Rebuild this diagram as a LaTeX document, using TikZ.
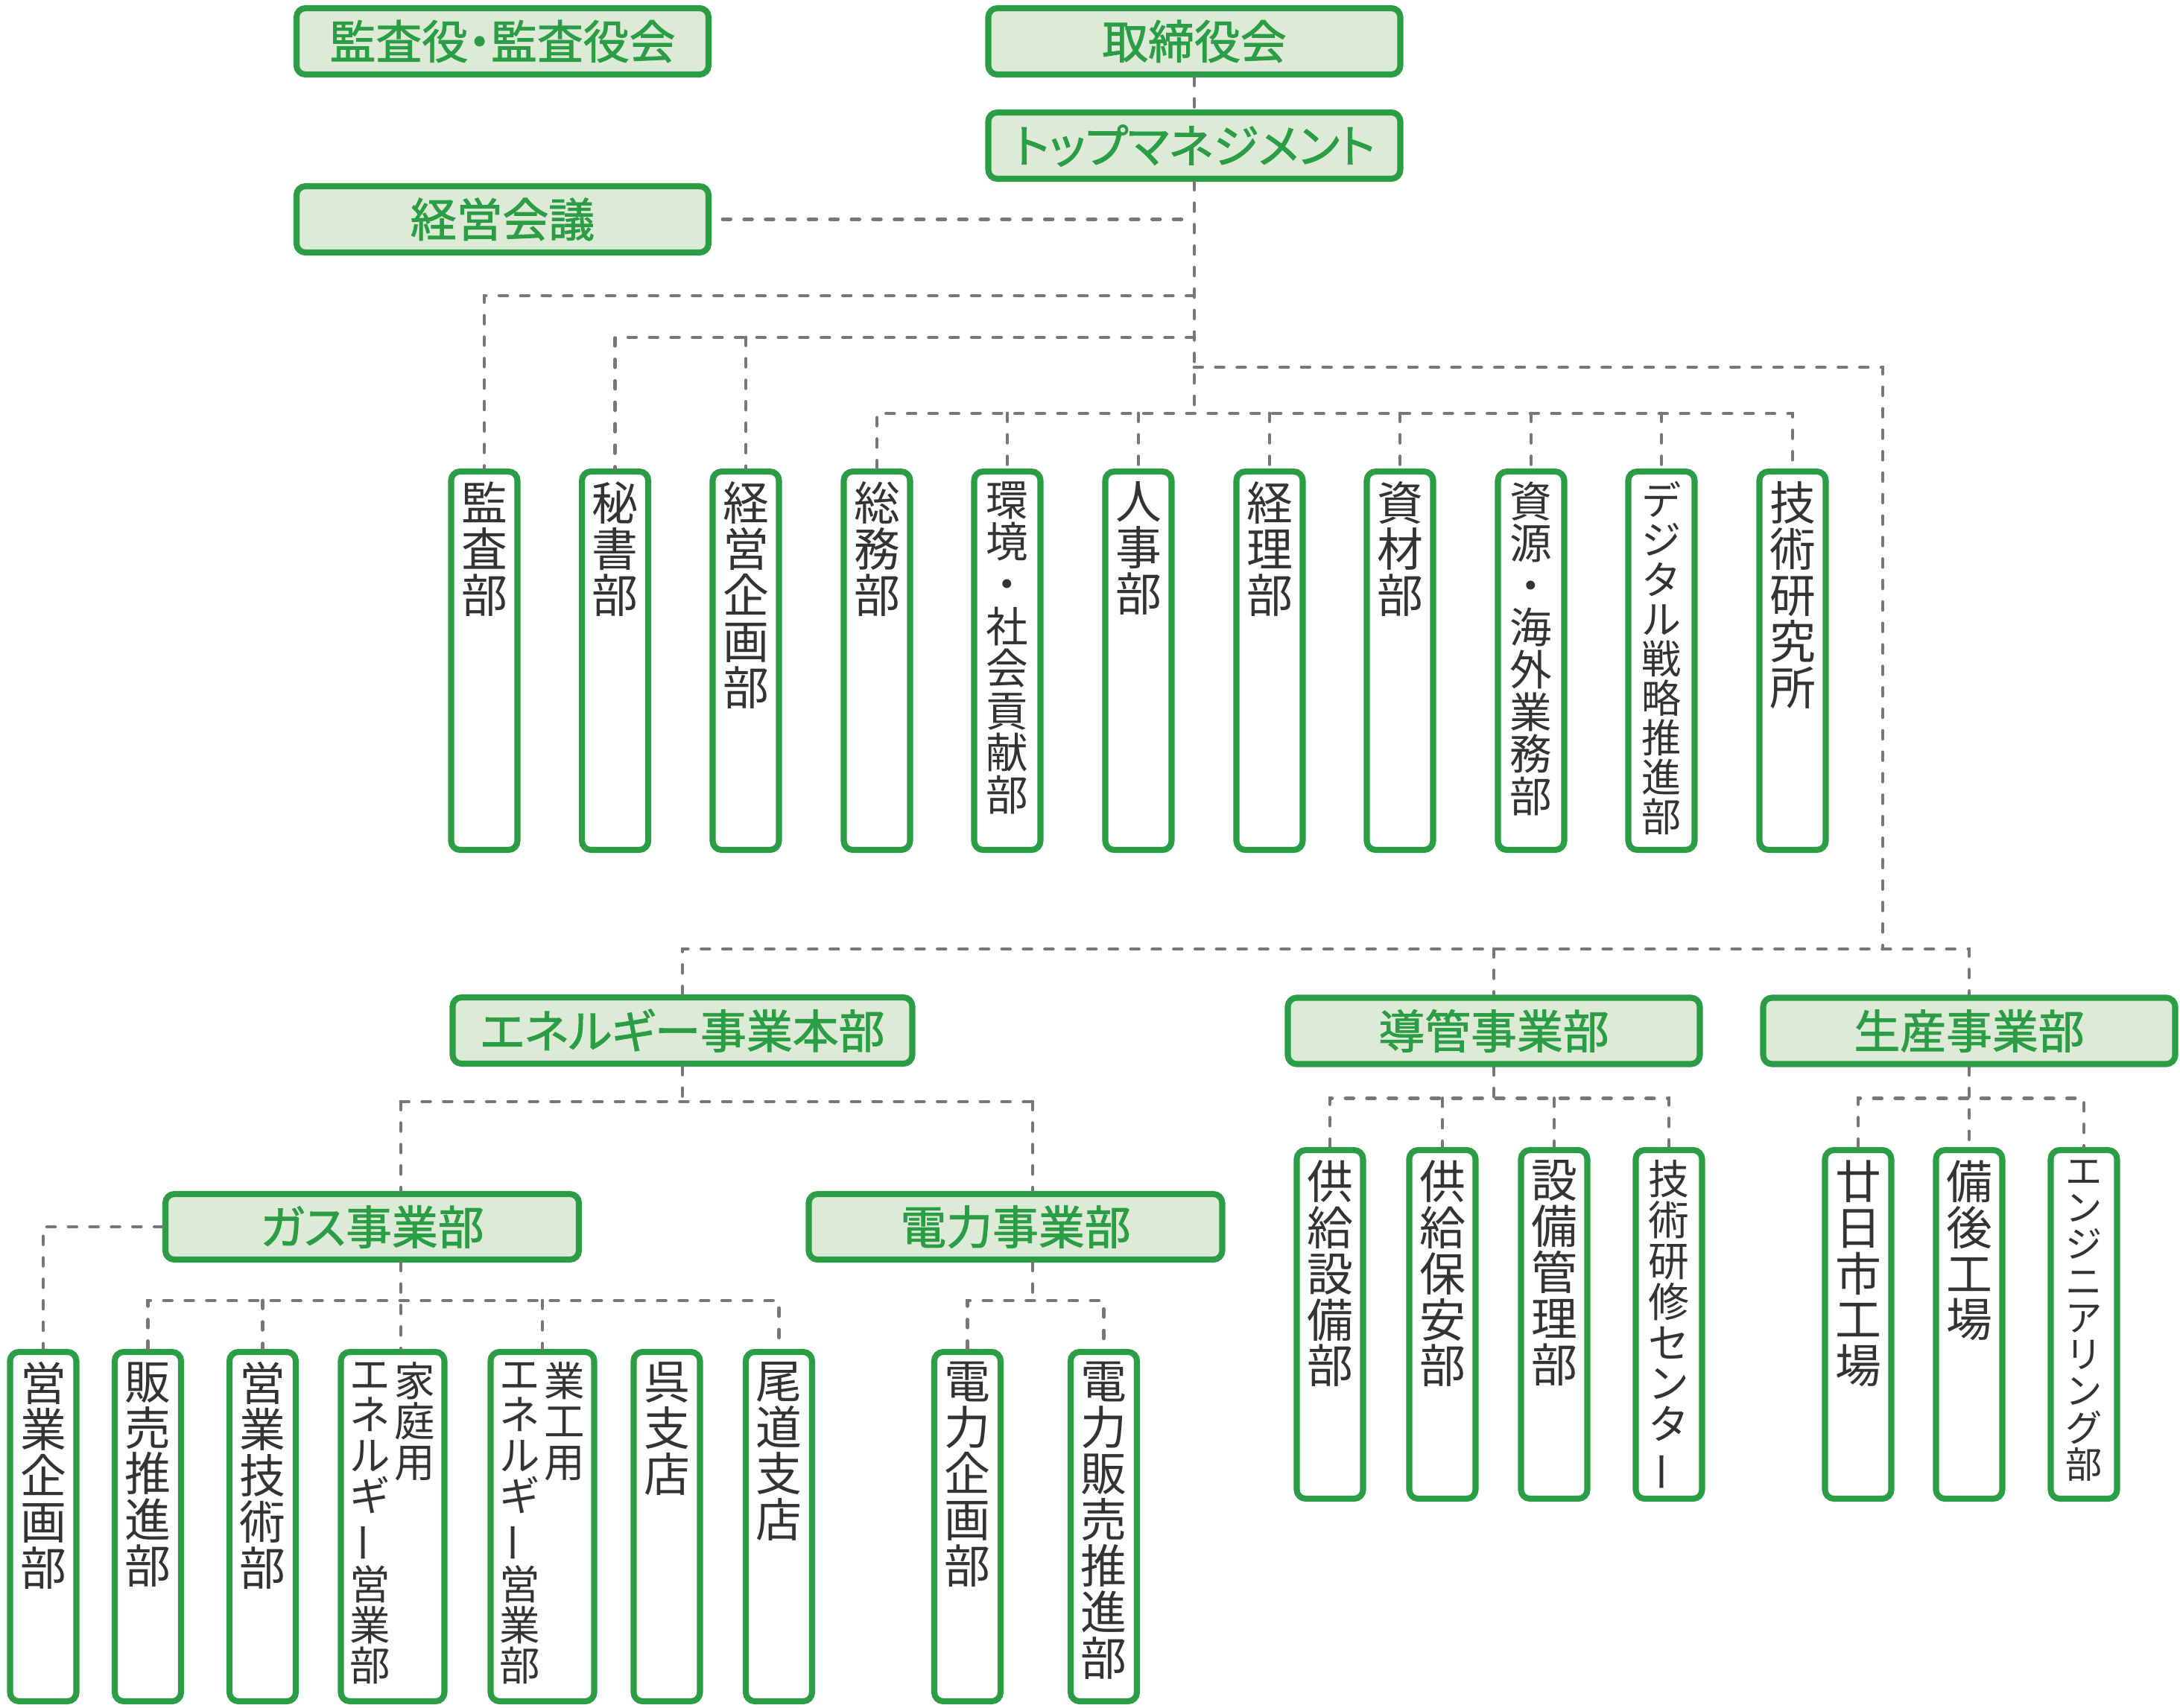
\documentclass[tikz,border=0pt]{standalone}
\usepackage{fontspec}
\usepackage{tikz}
\usetikzlibrary{positioning}

\newfontfamily\jpfont{Noto Sans CJK JP}
\newfontfamily\hdfont[RawFeature=+palt, FakeBold=1.5]{Noto Sans CJK JP}

\definecolor{gborder}{HTML}{2A9D45}
\definecolor{gfill}{HTML}{DCEAD6}
\definecolor{linkgray}{HTML}{777777}
\definecolor{darktext}{HTML}{333333}

% vertical long vowel mark
\newcommand{\vbar}{\rotatebox[origin=c]{90}{ー}}

\begin{document}
\begin{tikzpicture}[
    head/.style={rectangle, rounded corners=0.12cm, draw=gborder, line width=2.3pt, fill=gfill, minimum width=5.53cm, minimum height=0.89cm, inner sep=0, text=gborder, font=\hdfont\fontsize{17.6}{17.6}\selectfont},
    dept/.style={rectangle, rounded corners=0.12cm, draw=gborder, line width=2.3pt, fill=white, minimum width=0.89cm, inner sep=0},
    toprow/.style={dept, minimum height=5.08cm},
    midrow/.style={dept, minimum height=4.68cm},
    botrow/.style={dept, minimum height=4.69cm},
    vtext/.style={anchor=north, inner sep=0, align=center, text=darktext, font=\jpfont\fontsize{17.6}{17.6}\selectfont},
    link/.style={draw=linkgray, line width=1.4pt, line cap=round, dash pattern=on 3pt off 5.2pt}
]
\useasboundingbox (0,0) rectangle (29.26,-22.93);

% top
\node[head] (kansayaku) at (6.745,-0.555) {監査役・監査役会};
\node[head] (torishimari) at (16.03,-0.555) {取締役会};
\node[head] (topmgmt) at (16.03,-1.955) {トップマネジメント};
\node[head] (keieikaigi) at (6.745,-2.945) {経営会議};

% staff departments
\node[toprow] (kansabu) at (6.50,-8.87) {};
\node[toprow] (hisho) at (8.256,-8.87) {};
\node[toprow] (keieikikaku) at (10.01,-8.87) {};
\node[toprow] (somu) at (11.77,-8.87) {};
\node[toprow] (kankyo) at (13.52,-8.87) {};
\node[toprow] (jinji) at (15.28,-8.87) {};
\node[toprow] (keiri) at (17.04,-8.87) {};
\node[toprow] (shizai) at (18.79,-8.87) {};
\node[toprow] (shigen) at (20.55,-8.87) {};
\node[toprow] (digital) at (22.30,-8.87) {};
\node[toprow] (giken) at (24.06,-8.87) {};

\node[vtext] (kansabu-t) at ([yshift=-0.17cm]kansabu.north) {監\\査\\部};
\node[vtext] (hisho-t) at ([yshift=-0.17cm]hisho.north) {秘\\書\\部};
\node[vtext] (keieikikaku-t) at ([yshift=-0.17cm]keieikikaku.north) {経\\営\\企\\画\\部};
\node[vtext] (somu-t) at ([yshift=-0.17cm]somu.north) {総\\務\\部};
\node[vtext, font=\jpfont\fontsize{16.1}{16.1}\selectfont] (kankyo-t) at ([yshift=-0.17cm]kankyo.north) {環\\境\\・\\社\\会\\貢\\献\\部};
\node[vtext] (jinji-t) at ([yshift=-0.17cm]jinji.north) {人\\事\\部};
\node[vtext] (keiri-t) at ([yshift=-0.17cm]keiri.north) {経\\理\\部};
\node[vtext] (shizai-t) at ([yshift=-0.17cm]shizai.north) {資\\材\\部};
\node[vtext, font=\jpfont\fontsize{16.1}{16.1}\selectfont] (shigen-t) at ([yshift=-0.17cm]shigen.north) {資\\源\\・\\海\\外\\業\\務\\部};
\node[vtext, font=\jpfont\fontsize{15.1}{15.1}\selectfont] (digital-t) at ([yshift=-0.17cm]digital.north) {デ\\ジ\\タ\\ル\\戦\\略\\推\\進\\部};
\node[vtext] (giken-t) at ([yshift=-0.17cm]giken.north) {技\\術\\研\\究\\所};

% business divisions
\node[head, minimum width=6.17cm] (energyhq) at (9.16,-13.835) {エネルギー事業本部};
\node[head] (dokan) at (20.05,-13.84) {導管事業部};
\node[head] (seisan) at (26.43,-13.84) {生産事業部};
\node[head, minimum width=5.55cm, minimum height=0.88cm] (gas) at (4.995,-16.47) {ガス事業部};
\node[head, minimum width=5.55cm, minimum height=0.88cm] (denryoku) at (13.63,-16.47) {電力事業部};

% under dokan / seisan
\node[midrow] (kyokyusetsubi) at (17.85,-17.78) {};
\node[midrow] (kyokyuhoan) at (19.36,-17.78) {};
\node[midrow] (setsubikanri) at (20.86,-17.78) {};
\node[midrow] (kenshu) at (22.40,-17.78) {};
\node[midrow] (hatsukaichi) at (24.94,-17.78) {};
\node[midrow] (bingo) at (26.43,-17.78) {};
\node[midrow] (engineering) at (27.97,-17.78) {};

\node[vtext] (kyokyusetsubi-t) at ([yshift=-0.17cm]kyokyusetsubi.north) {供\\給\\設\\備\\部};
\node[vtext] (kyokyuhoan-t) at ([yshift=-0.17cm]kyokyuhoan.north) {供\\給\\保\\安\\部};
\node[vtext] (setsubikanri-t) at ([yshift=-0.17cm]setsubikanri.north) {設\\備\\管\\理\\部};
\node[vtext, font=\jpfont\fontsize{15.6}{15.6}\selectfont] (kenshu-t) at ([yshift=-0.17cm]kenshu.north) {技\\術\\研\\修\\セ\\ン\\タ\\\vbar};
\node[vtext] (hatsukaichi-t) at ([yshift=-0.17cm]hatsukaichi.north) {廿\\日\\市\\工\\場};
\node[vtext] (bingo-t) at ([yshift=-0.17cm]bingo.north) {備\\後\\工\\場};
\node[vtext, font=\jpfont\fontsize{14}{14}\selectfont] (engineering-t) at ([yshift=-0.17cm]engineering.north) {エ\\ン\\ジ\\ニ\\ア\\リ\\ン\\グ\\部};

% under gas / denryoku
\node[botrow] (eigyokikaku) at (0.58,-20.495) {};
\node[botrow] (hanbai) at (1.985,-20.495) {};
\node[botrow] (eigyogijutsu) at (3.525,-20.495) {};
\node[botrow, minimum width=1.39cm] (kateiyo) at (5.27,-20.495) {};
\node[botrow, minimum width=1.39cm] (gyokoyo) at (7.28,-20.495) {};
\node[botrow] (kure) at (8.95,-20.495) {};
\node[botrow] (onomichi) at (10.455,-20.495) {};
\node[botrow] (dkikaku) at (12.985,-20.495) {};
\node[botrow] (dhanbai) at (14.815,-20.495) {};

\node[vtext] (eigyokikaku-t) at ([yshift=-0.17cm]eigyokikaku.north) {営\\業\\企\\画\\部};
\node[vtext] (hanbai-t) at ([yshift=-0.17cm]hanbai.north) {販\\売\\推\\進\\部};
\node[vtext] (eigyogijutsu-t) at ([yshift=-0.17cm]eigyogijutsu.north) {営\\業\\技\\術\\部};
\node[vtext, font=\jpfont\fontsize{15.5}{15.5}\selectfont] (kateiyo-t1) at ([xshift=0.30cm,yshift=-0.17cm]kateiyo.north) {家\\庭\\用};
\node[vtext, font=\jpfont\fontsize{15.5}{15.5}\selectfont] (kateiyo-t2) at ([xshift=-0.30cm,yshift=-0.17cm]kateiyo.north) {エ\\ネ\\ル\\ギ\\\vbar\\営\\業\\部};
\node[vtext, font=\jpfont\fontsize{15.5}{15.5}\selectfont] (gyokoyo-t1) at ([xshift=0.30cm,yshift=-0.17cm]gyokoyo.north) {業\\工\\用};
\node[vtext, font=\jpfont\fontsize{15.5}{15.5}\selectfont] (gyokoyo-t2) at ([xshift=-0.30cm,yshift=-0.17cm]gyokoyo.north) {エ\\ネ\\ル\\ギ\\\vbar\\営\\業\\部};
\node[vtext] (kure-t) at ([yshift=-0.17cm]kure.north) {呉\\支\\店};
\node[vtext] (onomichi-t) at ([yshift=-0.17cm]onomichi.north) {尾\\道\\支\\店};
\node[vtext] (dkikaku-t) at ([yshift=-0.17cm]dkikaku.north) {電\\力\\企\\画\\部};
\node[vtext] (dhanbai-t) at ([yshift=-0.17cm]dhanbai.north) {電\\力\\販\\売\\推\\進\\部};

% junctions
\coordinate (j1) at (16.03,-3.97);
\coordinate (j2) at (16.03,-4.53);
\coordinate (j3) at (16.03,-4.93);
\coordinate (j4) at (16.03,-5.55);
\coordinate (j5) at (25.27,-12.74);
\coordinate (gasjoin) at (5.38,-14.79);
\coordinate (powjoin) at (13.86,-14.79);
\coordinate (gasbar) at (5.38,-17.46);
\coordinate (powbar) at (13.86,-17.46);
\coordinate (dbar) at (20.05,-14.745);

% connectors
\draw[link] (torishimari.south) -- (topmgmt.north);
\draw[link] (topmgmt.south) -- (j4);
\draw[link, shorten <=0.15cm] (keieikaigi.east) -- (keieikaigi.east -| topmgmt.south);
\draw[link] (j1) -| (kansabu.north);
\draw[link] (j2) -| (hisho.north);
\draw[link] (j2 -| keieikikaku) -- (keieikikaku.north);
\draw[link] (j3) -| (j5);
\draw[link] (somu.north) |- (j4) -| (giken.north);
\draw[link] (j4 -| kankyo) -- (kankyo.north);
\draw[link] (j4 -| jinji) -- (jinji.north);
\draw[link] (j4 -| keiri) -- (keiri.north);
\draw[link] (j4 -| shizai) -- (shizai.north);
\draw[link] (j4 -| shigen) -- (shigen.north);
\draw[link] (j4 -| digital) -- (digital.north);

\draw[link] (energyhq.north) |- (j5) -| (seisan.north);
\draw[link] (j5 -| dokan) -- (dokan.north);

\draw[link] (energyhq.south) -- (energyhq.south |- gasjoin);
\draw[link] (gasjoin) -- (powjoin);
\draw[link] (gasjoin) -- (gasjoin |- gas.north);
\draw[link] (powjoin) -- (powjoin |- denryoku.north);

\draw[link] (gas.south -| gasjoin) -- (gasjoin |- kateiyo.north);
\draw[link] (hanbai.north) |- (gasbar) -| (onomichi.north);
\draw[link] (gasbar -| eigyogijutsu) -- (eigyogijutsu.north);
\draw[link] (gasbar -| gyokoyo) -- (gyokoyo.north);
\draw[link] (gas.west) -| (eigyokikaku.north);

\draw[link] (denryoku.south -| powjoin) -- (powbar);
\draw[link] (dkikaku.north) |- (powbar) -| (dhanbai.north);

\draw[link] (dokan.south) -- (dbar);
\draw[link] (kyokyusetsubi.north) |- (dbar) -| (kenshu.north);
\draw[link] (dbar -| kyokyuhoan) -- (kyokyuhoan.north);
\draw[link] (dbar -| setsubikanri) -- (setsubikanri.north);

\draw[link] (seisan.south) -- (bingo.north);
\draw[link] (hatsukaichi.north) |- (dbar -| seisan) -| (engineering.north);
\end{tikzpicture}
\end{document}
